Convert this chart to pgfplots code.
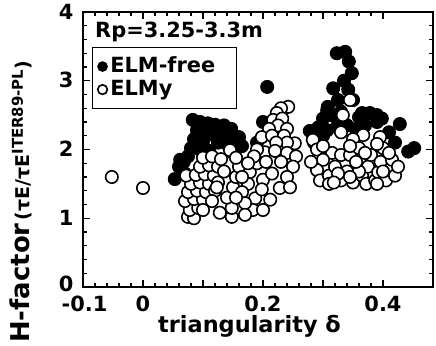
\documentclass[border=0pt]{standalone}
\usepackage{pgfplots}
\pgfplotsset{compat=1.18}
\usepackage{fontspec}
\setmainfont{DejaVu Sans}
\begin{document}
\begin{tikzpicture}
\begin{axis}[
  scale only axis, width=350bp, height=275bp,
  xmin=-0.1, xmax=0.4833, ymin=0, ymax=4,
  xtick={-0.1,0,0.1,0.2,0.3,0.4}, xticklabels={\hspace*{3bp}-0.1,0,,0.2,,0.4},
  ytick={0,1,2,3,4}, yticklabels={\raisebox{5bp}{0},1,2,3,\raisebox{-7bp}{4}},
  minor x tick num=4, minor y tick num=4,
  tick pos=both, tick align=inside,
  major tick length=7bp, minor tick length=4bp,
  axis line style={line width=1.6bp},
  every tick/.style={line width=1.1bp, black},
  tick label style={font=\fontsize{21}{21}\selectfont\bfseries},
  /pgf/number format/assume math mode=true,
  yticklabel style={xshift=-6bp, yshift=0.5bp},
  xticklabel style={yshift=-5.5bp},
  legend style={at={(rel axis cs:0.026,0.873)}, anchor=north west,
    draw=black, line width=1.3bp, inner xsep=5bp, inner ysep=8bp,
    font=\fontsize{21}{21}\selectfont\bfseries,
    nodes={inner sep=1bp, text height=16bp, text depth=4bp},
    row sep=1bp, column sep=2bp},
  legend cell align=left,
  legend image code/.code={\draw[mark repeat=2,mark phase=2,#1] plot coordinates {(0bp,0bp)(8bp,0bp)(16bp,0bp)};},
  legend image post style={mark size=4.8bp},
]
\coordinate (ll) at (rel axis cs:0,0);
\coordinate (ur) at (rel axis cs:1,1);
% ELM-free (filled)
\addplot[only marks, mark=*, mark size=6.5bp, mark options={fill=black, draw=black, line width=1bp}] coordinates {
(0.083,2.43)(0.095,2.40)(0.108,2.38)(0.12,2.36)(0.135,2.35)(0.09,2.28)(0.1,2.25)
(0.115,2.22)(0.13,2.2)(0.145,2.22)(0.085,2.15)(0.1,2.12)(0.125,2.1)(0.14,2.08)
(0.155,2.12)(0.165,2.05)(0.08,2.02)(0.095,2.0)(0.11,1.98)(0.075,1.9)(0.068,1.82)
(0.062,1.85)(0.06,1.75)(0.053,1.57)(0.07,1.65)(0.15,2.2)(0.147,2.3)(0.16,2.18)
(0.2,2.4)(0.21,2.25)(0.19,2.1)(0.15,1.95)(0.152,2.12)
(0.207,2.91)
(0.323,3.40)(0.337,3.42)(0.343,3.28)(0.348,3.11)(0.335,3.0)(0.317,2.89)(0.342,2.87)
(0.308,2.62)(0.325,2.72)(0.35,2.72)(0.33,2.55)(0.307,2.57)(0.278,2.27)(0.292,2.32)
(0.307,2.28)(0.323,2.33)(0.34,2.35)(0.36,2.47)(0.365,2.53)(0.378,2.53)(0.39,2.5)
(0.398,2.45)(0.39,2.4)(0.428,2.37)(0.41,2.25)(0.442,1.97)(0.452,2.02)(0.37,2.35)
(0.3,2.45)(0.315,2.5)(0.355,2.3)(0.42,2.1)(0.285,2.1)(0.3,2.2)
};
\addlegendentry{\makebox[120bp][l]{ELM-free}}
% ELMy (open)
\addplot[only marks, mark=*, mark size=6.2bp, mark options={fill=white, draw=black, line width=1.6bp}] coordinates {
(-0.052,1.6)(0.0,1.44)
(0.075,1.02)(0.085,1.00)(0.078,1.12)(0.092,1.15)(0.07,1.25)(0.085,1.28)(0.1,1.27)
(0.075,1.38)(0.09,1.40)(0.105,1.38)(0.08,1.50)(0.095,1.52)(0.11,1.50)(0.072,1.62)
(0.088,1.63)(0.103,1.64)(0.118,1.62)(0.095,1.75)(0.11,1.77)(0.125,1.75)(0.10,1.88)
(0.115,1.90)(0.13,1.86)(0.145,1.99)(0.135,1.68)(0.125,1.52)(0.12,1.40)(0.115,1.25)
(0.128,1.08)(0.148,1.02)(0.148,1.15)(0.14,1.30)(0.15,1.45)(0.155,1.60)(0.16,1.75)
(0.155,1.88)(0.1,1.12)(0.123,1.45)
(0.242,2.62)(0.23,2.60)(0.223,2.53)(0.217,2.43)(0.232,2.45)(0.225,2.35)(0.21,2.3)
(0.24,2.3)(0.198,2.18)(0.215,2.2)(0.235,2.2)(0.253,2.09)(0.24,2.1)(0.222,2.1)
(0.203,1.96)(0.19,2.0)(0.22,1.98)(0.24,1.95)(0.255,1.9)(0.178,1.67)(0.19,1.8)
(0.205,1.82)(0.23,1.82)(0.25,1.75)(0.2,1.56)(0.215,1.65)(0.24,1.6)(0.228,1.44)
(0.212,1.27)(0.187,1.29)(0.183,1.12)(0.198,1.42)(0.175,1.5)(0.165,1.38)(0.17,1.22)
(0.2,1.12)(0.245,1.45)(0.185,1.9)(0.17,1.05)(0.155,1.3)(0.165,1.6)(0.175,1.8)
(0.345,2.72)(0.333,2.5)(0.283,2.14)(0.315,1.95)(0.367,2.21)(0.395,2.18)(0.33,2.25)
(0.35,2.15)(0.29,2.0)(0.3,1.85)(0.29,1.7)(0.295,1.55)(0.31,1.62)(0.32,1.75)
(0.33,1.55)(0.33,1.92)(0.34,1.68)(0.35,1.52)(0.345,1.92)(0.36,2.02)(0.365,1.62)
(0.372,1.5)(0.375,1.75)(0.38,1.92)(0.387,1.55)(0.392,1.67)(0.396,1.82)(0.4,2.02)
(0.405,1.55)(0.41,1.7)(0.415,1.85)(0.42,1.62)(0.425,1.75)(0.345,2.05)(0.39,2.08)
(0.31,1.5)(0.325,1.65)(0.37,1.95)(0.36,1.68)(0.4,1.68)(0.28,1.82)(0.3,2.05)
(0.318,1.52)(0.345,1.6)(0.39,1.5)(0.41,1.95)(0.355,1.82)
};
\addlegendentry{ELMy}
\end{axis}
\node[anchor=base west, inner sep=0, font=\fontsize{21}{21}\selectfont\bfseries] at ([shift={(12bp,249bp)}]ll) {Rp=3.25-3.3m};
\node[anchor=base west, inner sep=0, font=\fontsize{22.5}{22.5}\selectfont\bfseries] at ([shift={(75bp,-46bp)}]ll) {triangularity δ};
\node[rotate=90, anchor=base west, inner sep=0] at ([shift={(-53bp,-56bp)}]ll)
  {{\fontsize{26}{26}\selectfont\bfseries H-factor} {\fontsize{19}{19}\selectfont\bfseries (τE/τE\raisebox{7bp}{\fontsize{15}{15}\selectfont ITER89-PL})}};
\pgfresetboundingbox
\path[use as bounding box] ([shift={(-83bp,-59bp)}]ll) rectangle ([shift={(3bp,12bp)}]ur);
\end{tikzpicture}
\end{document}
